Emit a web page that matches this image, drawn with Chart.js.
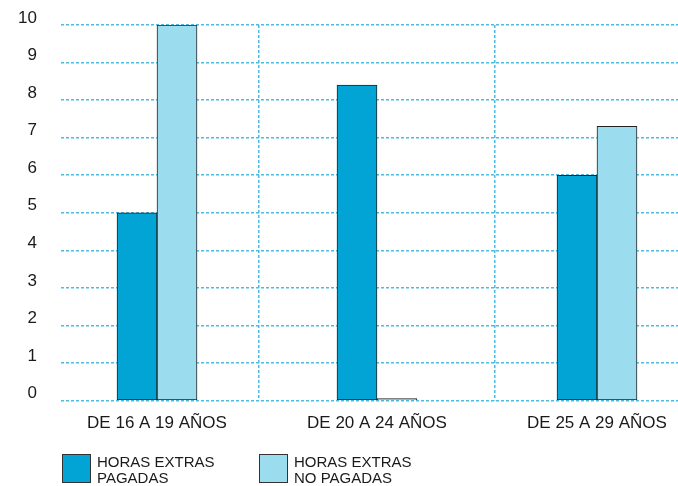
<!DOCTYPE html>
<html>
<head>
<meta charset="utf-8">
<script src="https://cdn.jsdelivr.net/npm/chart.js@4.4.1/dist/chart.umd.min.js"></script>
<style>
  html, body { margin: 0; padding: 0; background: #fff; }
  #wrap { position: relative; width: 678px; height: 486px; }
  .legend-item {
    position: absolute; top: 454px; display: flex;
    font-family: 'Liberation Sans', Arial, sans-serif; font-size: 15px; line-height: 16px; color: #1a1a1a;
  }
  .legend-box { width: 29px; height: 29px; box-sizing: border-box; border: 1px solid #333; margin-right: 6px; flex: none; }
</style>
</head>
<body>
<div id="wrap">
  <canvas id="chart" width="678" height="486"></canvas>
  <div id="legend"></div>
</div>
<script>
// datos
const categories = ['DE 16 A 19 AÑOS', 'DE 20 A 24 AÑOS', 'DE 25 A 29 AÑOS'];
const pagadas = [5, 8.4, 6];
const noPagadas = [10, 0, 7.3];
const seriesNames = [['HORAS EXTRAS', 'PAGADAS'], ['HORAS EXTRAS', 'NO PAGADAS']];
const seriesColors = ['#02a4d5', '#9bdcef'];
const yTicks = [0, 1, 2, 3, 4, 5, 6, 7, 8, 9, 10];
const dividers = [0.4636, 1.5364];

const xMin = -0.4364, xMax = 2.3682;
const gridColor = '#4cbce2';
const font = { family: "'Liberation Sans', Arial, sans-serif", size: 17 };

const toPoints = arr => arr.map((v, i) => ({ x: i, y: v }));

new Chart(document.getElementById('chart'), {
  type: 'bar',
  data: {
    datasets: [
      { label: seriesNames[0].join(' '), data: toPoints(pagadas), backgroundColor: seriesColors[0] },
      { label: seriesNames[1].join(' '), data: toPoints(noPagadas), backgroundColor: seriesColors[1] }
    ]
  },
  options: {
    responsive: false,
    animation: false,
    layout: { padding: { left: 0, top: 25, right: 0, bottom: 47 } },
    datasets: {
      bar: {
        barThickness: 40,
        borderColor: '#222',
        borderWidth: 1,
        borderSkipped: false,
        minBarLength: 2
      }
    },
    plugins: { legend: { display: false }, tooltip: { enabled: false } },
    scales: {
      x: {
        type: 'linear',
        min: xMin, max: xMax,
        offset: false,
        afterBuildTicks: s => { s.ticks = categories.map((c, i) => ({ value: i })); },
        grid: { display: false, offset: false },
        border: { display: false },
        ticks: {
          callback: v => categories[v],
          color: '#1a1a1a',
          font: font,
          padding: 5,
          maxRotation: 0,
          autoSkip: false
        }
      },
      x2: {
        type: 'linear',
        position: 'top',
        min: xMin, max: xMax,
        offset: false,
        afterBuildTicks: s => { s.ticks = dividers.map(v => ({ value: v })); },
        ticks: { display: false },
        grid: { color: gridColor, lineWidth: 1.5, drawTicks: false, offset: false },
        border: { display: false, dash: [3, 2] }
      },
      y: {
        min: 0, max: 10,
        afterBuildTicks: s => { s.ticks = yTicks.map(v => ({ value: v })); },
        afterFit: s => { s.width = 61; s.paddingTop = 0; s.paddingBottom = 0; },
        grid: { color: gridColor, lineWidth: 1.5, drawTicks: false },
        border: { display: false, dash: [3, 2] },
        ticks: {
          color: '#1a1a1a',
          font: font,
          padding: 24,
          labelOffset: -7
        }
      }
    }
  }
});

// leyenda
const legend = document.getElementById('legend');
const legendLeft = [62, 259];
seriesNames.forEach((lines, i) => {
  const item = document.createElement('div');
  item.className = 'legend-item';
  item.style.left = legendLeft[i] + 'px';
  const box = document.createElement('div');
  box.className = 'legend-box';
  box.style.background = seriesColors[i];
  const txt = document.createElement('div');
  txt.innerHTML = lines.join('<br>');
  item.appendChild(box);
  item.appendChild(txt);
  legend.appendChild(item);
});
</script>
</body>
</html>
